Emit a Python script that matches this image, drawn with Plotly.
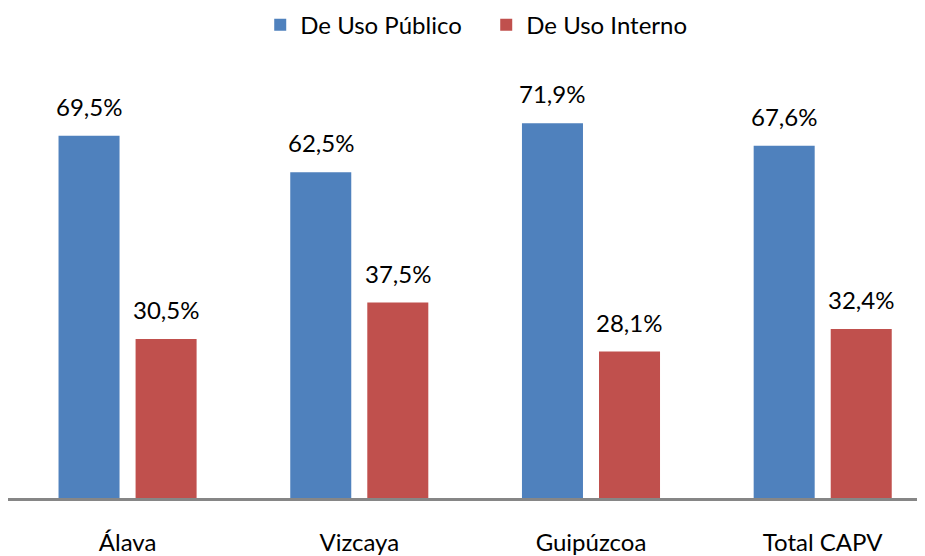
import plotly.graph_objects as go

categories = ["Álava", "Vizcaya", "Guipúzcoa", "Total CAPV"]
uso_publico = [69.5, 62.5, 71.9, 67.6]
uso_interno = [30.5, 37.5, 28.1, 32.4]
series_names = ["De Uso Público", "De Uso Interno"]
colors = ["#4F81BD", "#C0504D"]

FONT = "Lato"
FS = 24

fig = go.Figure()
for name, vals, col in zip(series_names, [uso_publico, uso_interno], colors):
    fig.add_trace(go.Bar(x=categories, y=vals, name=name, marker_color=col,
                         marker_line_width=0))

# data labels
slot_px = 38.5
for vals, sh in [(uso_publico, -slot_px), (uso_interno, slot_px)]:
    for c, v in zip(categories, vals):
        fig.add_annotation(x=c, y=v, text=f"{v:.1f}%".replace(".", ","),
                           showarrow=False, xshift=sh, yshift=13, yanchor="bottom",
                           font=dict(family=FONT, size=FS, color="#000000"))

fig.update_layout(
    width=925, height=556,
    margin=dict(l=0, r=0, t=73, b=66, autoexpand=False),
    paper_bgcolor="white", plot_bgcolor="white",
    barmode="group", bargap=0.335, bargroupgap=0.208,
    font=dict(family=FONT, size=FS, color="#000000"),
    legend=dict(orientation="h", x=0.517, xanchor="center", y=1.134, yanchor="middle",
                yref="paper", font=dict(family=FONT, size=FS),
                itemwidth=30, entrywidth=181, traceorder="normal"),
    showlegend=True,
)
fig.update_xaxes(range=[-0.516, 3.476], showline=True, linecolor="#868686", linewidth=3,
                 showgrid=False, ticks="", ticklabelstandoff=21,
                 tickfont=dict(family=FONT, size=FS, color="#000000"))
fig.update_yaxes(range=[0, 80], visible=False, showgrid=False)

fig.write_html("out.html")
